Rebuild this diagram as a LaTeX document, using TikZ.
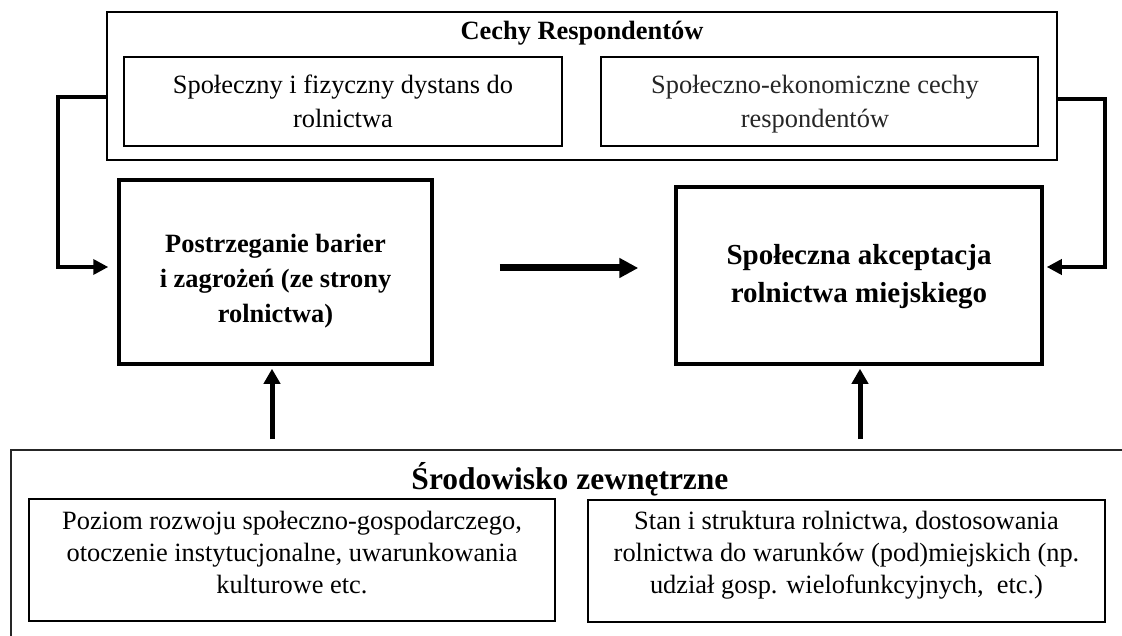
\documentclass[tikz,border=0pt]{standalone}
\usepackage{fontspec}
\setmainfont{Liberation Serif}
\usetikzlibrary{arrows.meta}
\newcommand{\mlines}[1]{\begin{tabular}[t]{@{}c@{}}#1\end{tabular}}
\begin{document}
\begin{tikzpicture}[x=1pt,y=-1pt,
  box/.style={draw, rectangle, inner sep=0pt},
  thinbox/.style={box, line width=2},
  midbox/.style={box, line width=2.6},
  mainbox/.style={box, line width=3.5},
  txt/.style={inner sep=0pt, anchor=base},
  reg/.style={txt, font=\fontsize{26.4}{34}\selectfont},
  regb/.style={txt, font=\fontsize{26.4}{32}\selectfont},
  boldt/.style={txt, font=\fontsize{26.4}{35}\selectfont\bfseries},
  conn/.style={line width=3.5, -{Triangle[length=15pt,width=15pt]}},
  bigarrow/.style={line width=7, -{Triangle[length=19pt,width=19pt]}},
  uparrow/.style={line width=5, -{Triangle[length=15pt,width=16pt]}}
]
\useasboundingbox (0,0) rectangle (1122,636);
\clip (0,0) rectangle (1122,636);
\fill[white] (0,0) rectangle (1122,636);

% top group
\node[thinbox, minimum width=950, minimum height=148] (outerTop) at (582,86) {};
\node[boldt] (titleTop) at (582,40) {Cechy Respondentów};
\node[midbox, minimum width=438, minimum height=89] (topL) at (343,101.5) {};
\node[reg] (topLtxt) at (343,94) {\mlines{Społeczny i fizyczny dystans do\\rolnictwa}};
\node[midbox, minimum width=437, minimum height=89] (topR) at (819.5,101.5) {};
\node[reg, text=black!85] (topRtxt) at (815,94) {\mlines{Społeczno-ekonomiczne cechy\\respondentów}};

% main boxes
\node[mainbox, minimum width=313, minimum height=184] (post) at (275.5,272) {};
\node[boldt] (posttxt) at (275.5,253) {\mlines{Postrzeganie barier\\i zagrożeń (ze strony\\rolnictwa)}};
\node[mainbox, minimum width=366, minimum height=177] (akc) at (859,275.5) {};
\node[txt, font=\fontsize{29}{38}\selectfont\bfseries] (akctxt) at (859,265) {\mlines{Społeczna akceptacja\\rolnictwa miejskiego}};

% bottom group
\node[thinbox, draw=black!85, minimum width=1124, minimum height=210] (outerBot) at (573,555) {};
\node[txt, font=\fontsize{31.5}{36}\selectfont\bfseries] (titleBot) at (570,489) {Środowisko zewnętrzne};
\node[midbox, minimum width=526, minimum height=122] (botL) at (292,560) {};
\node[regb] (botLtxt) at (292,529) {\mlines{Poziom rozwoju społeczno-gospodarczego,\\otoczenie instytucjonalne, uwarunkowania\\kulturowe etc.}};
\node[midbox, minimum width=517, minimum height=122] (botR) at (846.5,561) {};
\node[regb] (botRtxt) at (846.5,529) {\mlines{Stan i struktura rolnictwa, dostosowania\\rolnictwa do warunków (pod)miejskich (np.\\udział gosp. wielofunkcyjnych,\ \ etc.)}};

% connectors
\coordinate (lc) at (58,97);
\coordinate (rc) at (1105,99);
\draw[conn] (outerTop.west |- lc) -- (lc) |- ([xshift=-9pt,yshift=5pt]post.west);
\draw[conn] (outerTop.east |- rc) -- (rc) |- ([xshift=3pt,yshift=8.5pt]akc.east);
\draw[bigarrow, shorten <=66pt, shorten >=36pt] ([yshift=4pt]post.east) -- ([yshift=7.5pt]akc.west);
\draw[uparrow, shorten <=10pt, shorten >=3pt] ([xshift=-3.5pt]outerBot.north -| post.south) -- ([xshift=-3.5pt]post.south);
\draw[uparrow, shorten <=10pt, shorten >=3pt] ([xshift=1pt]outerBot.north -| akc.south) -- ([xshift=1pt]akc.south);
\end{tikzpicture}
\end{document}
